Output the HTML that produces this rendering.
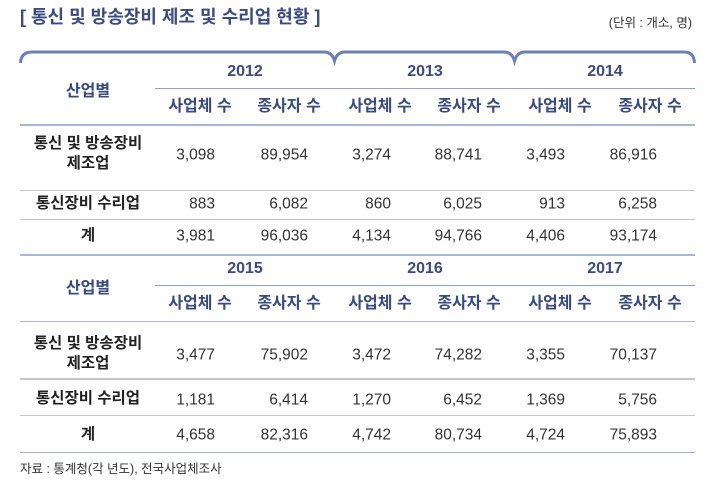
<!DOCTYPE html>
<html><head><meta charset="utf-8"><style>
*{margin:0;padding:0}
body{width:704px;height:486px;background:#fff;position:relative;overflow:hidden;font-family:"Liberation Sans","Noto Sans CJK KR",sans-serif}
.t{position:absolute;white-space:nowrap;line-height:1}
.c{transform:translate(-50%,-50%);text-align:center}
.r{transform:translateY(-50%)}
.h{color:#3a4a7e;font-weight:bold;font-size:16px}
.n{color:#333;font-size:15.5px}
.l{color:#222;font-weight:bold;font-size:15.5px;line-height:20px}
.ln{position:absolute;height:1.5px}
</style></head><body>
<div class="t" style="left:20px;top:8px;font-size:18px;font-weight:bold;color:#3d4c7e">[ 통신 및 방송장비 제조 및 수리업 현황 ]</div>
<div class="t" style="right:12px;top:17px;font-size:12.5px;color:#333">(단위 : 개소, 명)</div>
<svg style="position:absolute;left:0;top:0" width="704" height="486">
<path d="M20.5,63 Q21,52 32,52 L324,52 Q332,52 334.5,61 Q337,52 345,52 L504,52 Q512,52 514.5,61 Q517,52 525,52 L684,52 Q694,52 694.5,63" fill="none" stroke="#6b80b8" stroke-width="3"/>
</svg>
<div class="ln" style="left:155px;width:540px;top:87.5px;background:#8d9fcb"></div>
<div class="ln" style="left:20px;width:675px;top:124px;background:#a9b6d8"></div>
<div class="ln" style="left:20px;width:675px;top:189.5px;background:#c6c6c6"></div>
<div class="ln" style="left:20px;width:675px;top:218.5px;background:#c6c6c6"></div>
<div class="ln" style="left:20px;width:675px;top:254px;background:#a9b6d8"></div>
<div class="ln" style="left:155px;width:540px;top:284.5px;background:#8d9fcb"></div>
<div class="ln" style="left:20px;width:675px;top:320.5px;background:#a9b6d8"></div>
<div class="ln" style="left:20px;width:675px;top:378px;background:#c6c6c6"></div>
<div class="ln" style="left:20px;width:675px;top:414.5px;background:#c6c6c6"></div>
<div class="ln" style="left:20px;width:675px;top:451.5px;background:#a9b6d8"></div>

<!-- block 1 -->
<div class="t c h" style="left:88px;top:92px">산업별</div>
<div class="t c h" style="left:245px;top:72px">2012</div>
<div class="t c h" style="left:425px;top:72px">2013</div>
<div class="t c h" style="left:605px;top:72px">2014</div>
<div class="t c h" style="left:200px;top:107px">사업체 수</div>
<div class="t c h" style="left:289px;top:107px">종사자 수</div>
<div class="t c h" style="left:380px;top:107px">사업체 수</div>
<div class="t c h" style="left:469px;top:107px">종사자 수</div>
<div class="t c h" style="left:560px;top:107px">사업체 수</div>
<div class="t c h" style="left:650px;top:107px">종사자 수</div>

<div class="t c l" style="left:88px;top:154px">통신 및 방송장비<br>제조업</div>
<div class="t c l" style="left:88px;top:204px">통신장비 수리업</div>
<div class="t c l" style="left:88px;top:236px">계</div>

<!-- block 2 -->
<div class="t c h" style="left:88px;top:289px">산업별</div>
<div class="t c h" style="left:245px;top:269px">2015</div>
<div class="t c h" style="left:425px;top:269px">2016</div>
<div class="t c h" style="left:605px;top:269px">2017</div>
<div class="t c h" style="left:200px;top:304px">사업체 수</div>
<div class="t c h" style="left:289px;top:304px">종사자 수</div>
<div class="t c h" style="left:380px;top:304px">사업체 수</div>
<div class="t c h" style="left:469px;top:304px">종사자 수</div>
<div class="t c h" style="left:560px;top:304px">사업체 수</div>
<div class="t c h" style="left:650px;top:304px">종사자 수</div>

<div class="t c l" style="left:88px;top:354px">통신 및 방송장비<br>제조업</div>
<div class="t c l" style="left:88px;top:399px">통신장비 수리업</div>
<div class="t c l" style="left:88px;top:435px">계</div>

<div id="nums"></div>
<div class="t" style="left:20px;top:463px;font-size:12.5px;color:#333">자료 : 통계청(각 년도), 전국사업체조사</div>
<script>
var rights=[215,308,391,482,565,657];
var rows=[[155,["3,098","89,954","3,274","88,741","3,493","86,916"]],
[204,["883","6,082","860","6,025","913","6,258"]],
[236,["3,981","96,036","4,134","94,766","4,406","93,174"]],
[355,["3,477","75,902","3,472","74,282","3,355","70,137"]],
[400,["1,181","6,414","1,270","6,452","1,369","5,756"]],
[435,["4,658","82,316","4,742","80,734","4,724","75,893"]]];
var h="";
rows.forEach(function(r){r[1].forEach(function(v,i){h+='<div class="t r n" style="right:'+(704-rights[i])+'px;top:'+r[0]+'px">'+v+'</div>';});});
document.getElementById("nums").innerHTML=h;
</script>
</body></html>
